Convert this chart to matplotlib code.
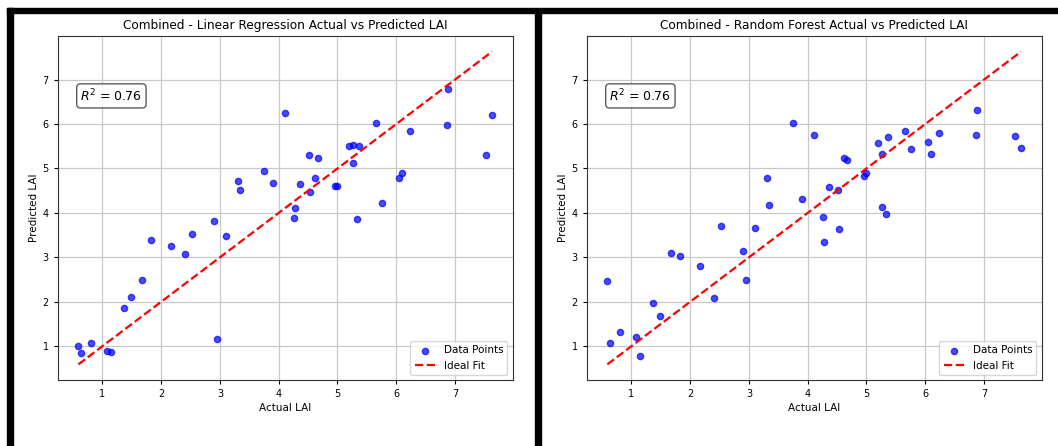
import numpy as np
import matplotlib
matplotlib.use("Agg")
import matplotlib.pyplot as plt
from matplotlib.patches import Rectangle

actual = [0.59, 0.64, 0.81, 1.07, 1.14, 1.37, 1.49, 1.67, 1.83, 2.17, 2.41,
          2.53, 2.89, 2.95, 3.10, 3.31, 3.34, 3.75, 3.91, 4.11, 4.26, 4.28,
          4.37, 4.51, 4.53, 4.62, 4.66, 4.96, 5.00, 5.19, 5.27, 5.27, 5.34,
          5.37, 5.66, 5.75, 6.05, 6.09, 6.24, 6.86, 6.88, 7.52, 7.63]
pred_lr = [1.01, 0.85, 1.07, 0.90, 0.87, 1.87, 2.11, 2.50, 3.39, 3.26, 3.07,
           3.52, 3.82, 1.16, 3.47, 4.72, 4.52, 4.94, 4.68, 6.24, 3.89, 4.12,
           4.64, 5.31, 4.46, 4.78, 5.23, 4.61, 4.61, 5.50, 5.53, 5.13, 3.86,
           5.50, 6.03, 4.22, 4.79, 4.89, 5.85, 5.98, 6.80, 5.31, 6.20]
pred_rf = [2.47, 1.07, 1.31, 1.20, 0.78, 1.97, 1.67, 3.09, 3.03, 2.80, 2.08,
           3.70, 3.15, 2.48, 3.66, 4.79, 4.17, 6.03, 4.32, 5.76, 3.90, 3.35,
           4.59, 4.52, 3.64, 5.24, 5.19, 4.84, 4.90, 5.58, 5.32, 4.13, 3.98,
           5.71, 5.85, 5.44, 5.59, 5.33, 5.79, 5.76, 6.31, 5.73, 5.46]
models = ["Linear Regression", "Random Forest"]
r2_values = [0.76, 0.76]

fig = plt.figure(figsize=(10.58, 4.46), dpi=100)

# Moldura preta em volta dos painéis (como na captura original)
W, H = 1058, 446
for x0, y0, w, h in [(7, 8, W - 7, 5), (7, 8, 6, H - 8), (535, 13, 6, H - 13)]:
    fig.patches.append(Rectangle((x0 / W, 1 - (y0 + h) / H), w / W, h / H,
                                 transform=fig.transFigure, color='black', zorder=-1))

lefts = [57.7 / W, 586.7 / W]
for left, model, pred, r2 in zip(lefts, models, [pred_lr, pred_rf], r2_values):
    ax = fig.add_axes([left, 66 / H, 455 / W, 344 / H])
    ax.scatter(actual, pred, color='blue', alpha=0.7, s=20, label='Data Points')
    lims = [min(actual), max(actual)]
    ax.plot(lims, lims, 'r--', lw=1.6, label='Ideal Fit')
    ax.set_title(f'Combined - {model} Actual vs Predicted LAI', fontsize=8.7, pad=5)
    ax.set_xlabel('Actual LAI', fontsize=7.5, labelpad=3)
    ax.set_ylabel('Predicted LAI', fontsize=7.5, labelpad=2.5)
    ax.tick_params(labelsize=7, length=3)
    ax.grid(True, color='#c8c8c8', lw=0.9)
    ax.set_axisbelow(True)
    for sp in ax.spines.values():
        sp.set_color('#333333')
    ax.text(0.05, 0.85, f'$R^2$ = {r2:.2f}', transform=ax.transAxes, fontsize=9,
            va='top', bbox=dict(boxstyle='round', facecolor='white', edgecolor='#333333', alpha=0.8))
    ax.legend(loc='lower right', fontsize=7.5)

fig.savefig('out.png', dpi=100)
